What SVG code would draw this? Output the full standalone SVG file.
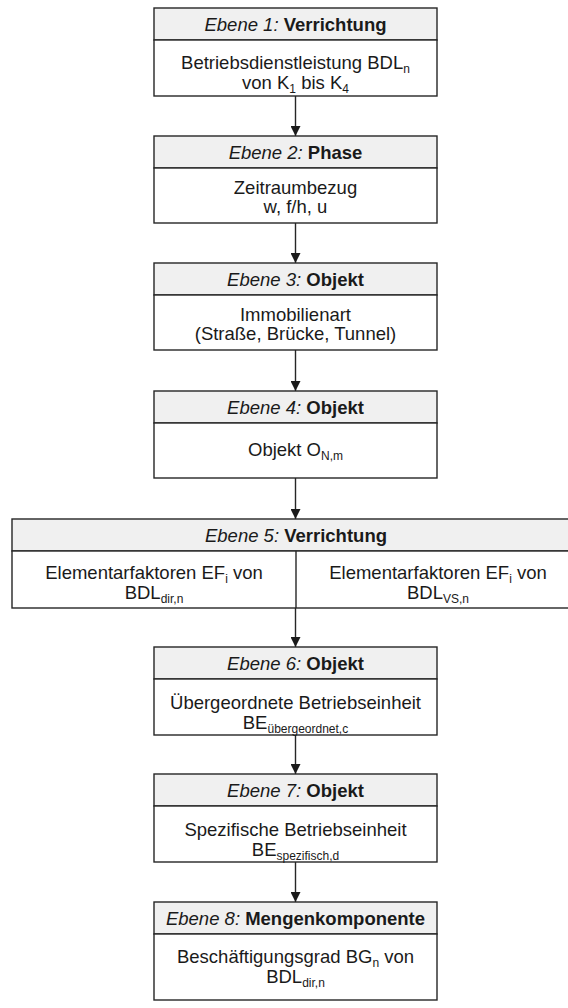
<svg xmlns="http://www.w3.org/2000/svg" width="568" height="1008" viewBox="0 0 568 1008">
  <style>
    .hdr { fill: #f0f0f0; stroke: #262626; stroke-width: 1.4; }
    .body { fill: #ffffff; stroke: #262626; stroke-width: 1.4; }
    .sep { stroke: #262626; stroke-width: 1.4; }
    text { font-family: "Liberation Sans", Arial, sans-serif; font-size: 18.5px; fill: #1a1a1a; text-anchor: middle; }
    .it { font-style: italic; }
    .b { font-weight: bold; }
    .sub { font-size: 12px; }
    .conn { stroke: #262626; stroke-width: 1.4; fill: none; marker-end: url(#arrow); }
  </style>
  <defs>
    <marker id="arrow" viewBox="0 0 10 10" refX="10" refY="5" markerWidth="10" markerHeight="10" markerUnits="userSpaceOnUse" orient="auto">
      <path d="M0,0 L10,5 L0,10 Z" fill="#1a1a1a"/>
    </marker>
  </defs>

  <!-- connectors between the levels -->
  <g id="connectors">
    <line class="conn" x1="295.5" y1="96" x2="295.5" y2="136"/>
    <line class="conn" x1="295.5" y1="223" x2="295.5" y2="263"/>
    <line class="conn" x1="295.5" y1="350" x2="295.5" y2="391"/>
    <line class="conn" x1="295.5" y1="478" x2="295.5" y2="519"/>
    <line class="conn" x1="295.5" y1="608" x2="295.5" y2="647"/>
    <line class="conn" x1="295.5" y1="735" x2="295.5" y2="774"/>
    <line class="conn" x1="295.5" y1="862" x2="295.5" y2="902"/>
  </g>

  <!-- level 1 -->
  <g id="ebene1">
    <rect class="hdr" x="154" y="8" width="283" height="32"/>
    <rect class="body" x="154" y="40" width="283" height="56"/>
    <text x="295.5" y="30.5"><tspan class="it">Ebene 1: </tspan><tspan class="b">Verrichtung</tspan></text>
    <text x="295.5" y="69">Betriebsdienstleistung BDL<tspan class="sub" dy="4">n</tspan></text>
    <text x="295.5" y="88.5">von K<tspan class="sub" dy="4">1</tspan><tspan dy="-4"> bis K</tspan><tspan class="sub" dy="4">4</tspan></text>
  </g>

  <!-- level 2 -->
  <g id="ebene2">
    <rect class="hdr" x="154" y="136" width="283" height="32"/>
    <rect class="body" x="154" y="168" width="283" height="55"/>
    <text x="295.5" y="158.5"><tspan class="it">Ebene 2: </tspan><tspan class="b">Phase</tspan></text>
    <text x="295.5" y="193.5">Zeitraumbezug</text>
    <text x="295.5" y="213">w, f/h, u</text>
  </g>

  <!-- level 3 -->
  <g id="ebene3">
    <rect class="hdr" x="154" y="263" width="283" height="32"/>
    <rect class="body" x="154" y="295" width="283" height="55"/>
    <text x="295.5" y="285.5"><tspan class="it">Ebene 3: </tspan><tspan class="b">Objekt</tspan></text>
    <text x="295.5" y="320.5">Immobilienart</text>
    <text x="295.5" y="340">(Straße, Brücke, Tunnel)</text>
  </g>

  <!-- level 4 -->
  <g id="ebene4">
    <rect class="hdr" x="154" y="391" width="283" height="32"/>
    <rect class="body" x="154" y="423" width="283" height="55"/>
    <text x="295.5" y="413.5"><tspan class="it">Ebene 4: </tspan><tspan class="b">Objekt</tspan></text>
    <text x="295.5" y="456">Objekt O<tspan class="sub" dy="4">N,m</tspan></text>
  </g>

  <!-- level 5, split into two columns -->
  <g id="ebene5">
    <rect class="hdr" x="12" y="519" width="568" height="32"/>
    <rect class="body" x="12" y="551" width="568" height="57"/>
    <line class="sep" x1="296" y1="551" x2="296" y2="608"/>
    <text x="296" y="541.5"><tspan class="it">Ebene 5: </tspan><tspan class="b">Verrichtung</tspan></text>
    <text x="154" y="579">Elementarfaktoren EF<tspan class="sub" dy="4">i</tspan><tspan dy="-4"> von</tspan></text>
    <text x="154" y="598.5">BDL<tspan class="sub" dy="4">dir,n</tspan></text>
    <text x="438" y="579">Elementarfaktoren EF<tspan class="sub" dy="4">i</tspan><tspan dy="-4"> von</tspan></text>
    <text x="438" y="598.5">BDL<tspan class="sub" dy="4">VS,n</tspan></text>
  </g>

  <!-- level 6 -->
  <g id="ebene6">
    <rect class="hdr" x="154" y="647" width="283" height="32"/>
    <rect class="body" x="154" y="679" width="283" height="56"/>
    <text x="295.5" y="669.5"><tspan class="it">Ebene 6: </tspan><tspan class="b">Objekt</tspan></text>
    <text x="295.5" y="709">Übergeordnete Betriebseinheit</text>
    <text x="295.5" y="728.5">BE<tspan class="sub" dy="4">übergeordnet,c</tspan></text>
  </g>

  <!-- level 7 -->
  <g id="ebene7">
    <rect class="hdr" x="154" y="774" width="283" height="32"/>
    <rect class="body" x="154" y="806" width="283" height="56"/>
    <text x="295.5" y="796.5"><tspan class="it">Ebene 7: </tspan><tspan class="b">Objekt</tspan></text>
    <text x="295.5" y="836">Spezifische Betriebseinheit</text>
    <text x="295.5" y="855.5">BE<tspan class="sub" dy="4">spezifisch,d</tspan></text>
  </g>

  <!-- level 8 -->
  <g id="ebene8">
    <rect class="hdr" x="154" y="902" width="283" height="32"/>
    <rect class="body" x="154" y="934" width="283" height="66"/>
    <text x="295.5" y="924.5"><tspan class="it">Ebene 8: </tspan><tspan class="b">Mengenkomponente</tspan></text>
    <text x="295.5" y="963">Beschäftigungsgrad BG<tspan class="sub" dy="4">n</tspan><tspan dy="-4"> von</tspan></text>
    <text x="295.5" y="982.5">BDL<tspan class="sub" dy="4">dir,n</tspan></text>
  </g>
</svg>
